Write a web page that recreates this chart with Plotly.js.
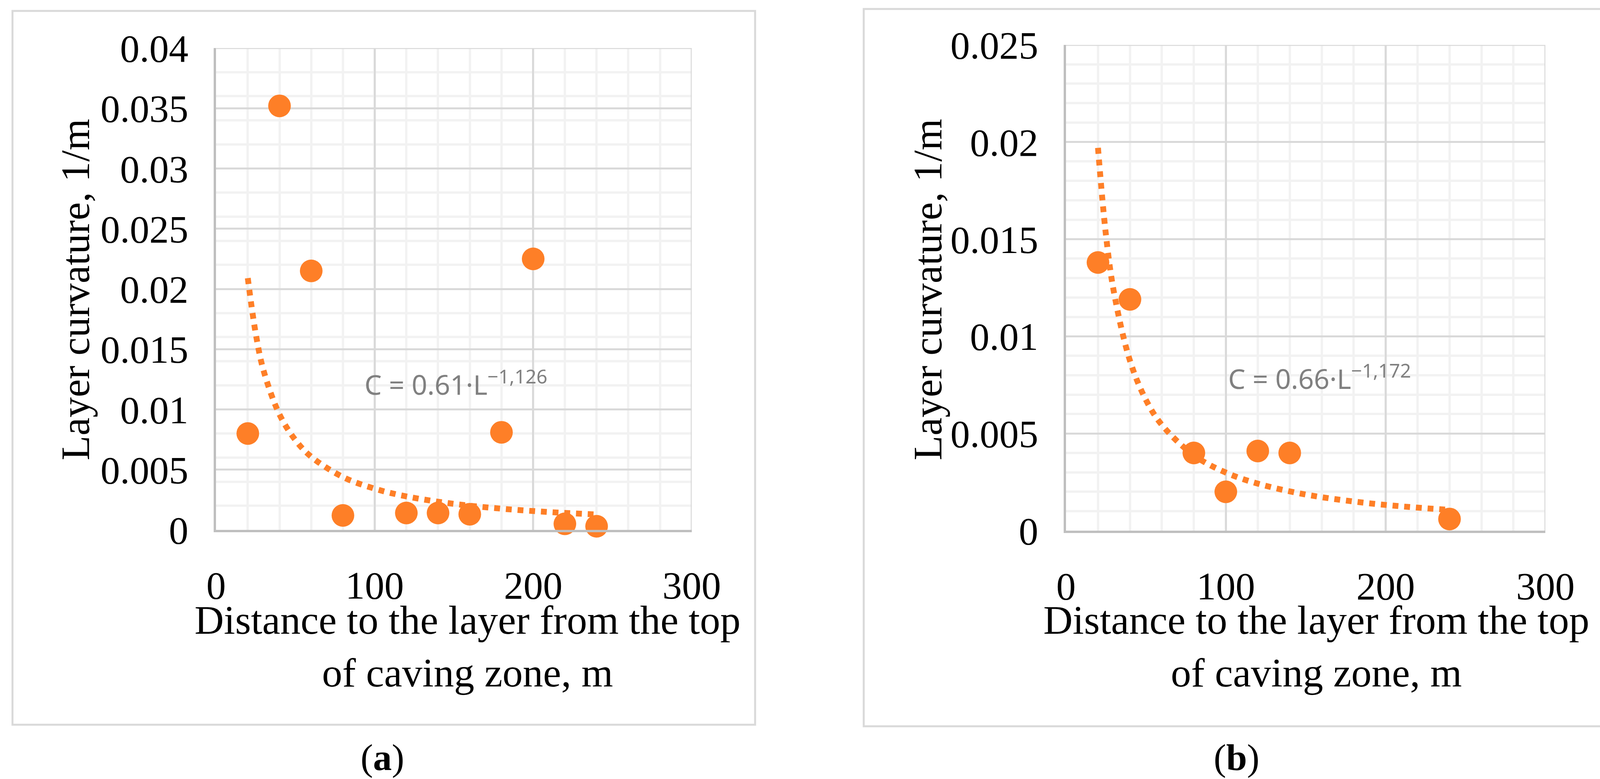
<!DOCTYPE html>
<html>
<head>
<meta charset="utf-8">
<script src="https://cdn.plot.ly/plotly-3.0.1.min.js"></script>
<style>body{margin:0;background:#fff}#chart{width:4150px;height:1995px}</style>
</head>
<body>
<div id="chart"></div>
<script>
// panel (a) measured points
let xA=[20,40,60,80,120,140,160,180,200,220,240]
let yA=[0.008,0.0352,0.0215,0.0012,0.0014,0.0014,0.0013,0.0081,0.0225,0.0005,0.0003]
// panel (a) trend
let trendXA=[20,25,30,40,50,60,80,100,120,150,180,210,240]
let trendYA=[0.0209,0.0163,0.0132,0.00958,0.00746,0.00607,0.00439,0.00342,0.00278,0.00216,0.00176,0.00148,0.00128]

// panel (b) measured points
let xB=[20,40,80,100,120,140,240]
let yB=[0.0138,0.0119,0.0040,0.0020,0.0041,0.0040,0.0006]
let trendXB=[20,25,30,40,50,60,80,100,120,150,180,210,240]
let trendYB=[0.0197,0.0152,0.01226,0.00875,0.00673,0.00544,0.00388,0.00299,0.00242,0.00186,0.0015,0.00125,0.00107]

let xTicks=[0,100,200,300]
let orange="#fe7f27"
let serif="Liberation Serif, Times New Roman, serif"

function axisX(dom,anchor){
return {domain:dom,anchor:anchor,range:[0,300],tickvals:xTicks,showline:true,linecolor:"#bfbfbf",linewidth:6,
gridcolor:"#d9d9d9",gridwidth:5,zeroline:false,ticks:"",ticklabelstandoff:50,
tickfont:{family:serif,size:100,color:"#000"},
minor:{dtick:20,tick0:0,showgrid:true,gridcolor:"#f2f2f2",gridwidth:6}}
}
function axisY(dom,anchor,max,dt){
return {domain:dom,anchor:anchor,range:[0,max],dtick:dt,tick0:0,showline:true,linecolor:"#bfbfbf",linewidth:6,
gridcolor:"#d9d9d9",gridwidth:5,zeroline:false,ticks:"",ticklabelstandoff:45,
tickfont:{family:serif,size:100,color:"#000"},
minor:{dtick:max==0.04?0.002:0.001,tick0:0,showgrid:true,gridcolor:"#f2f2f2",gridwidth:6}}
}

let traces=[
{x:trendXA,y:trendYA,mode:"lines",line:{color:orange,width:15,dash:"dot",shape:"spline"},xaxis:"x",yaxis:"y",hoverinfo:"skip"},
{x:xA,y:yA,mode:"markers",marker:{color:orange,size:58},xaxis:"x",yaxis:"y",cliponaxis:false},
{x:trendXB,y:trendYB,mode:"lines",line:{color:orange,width:15,dash:"dot",shape:"spline"},xaxis:"x2",yaxis:"y2",hoverinfo:"skip"},
{x:xB,y:yB,mode:"markers",marker:{color:orange,size:58},xaxis:"x2",yaxis:"y2",cliponaxis:false}
]

let ann=[]
function addAnn(text,x,y,size,opts){
ann.push(Object.assign({text:text,x:x,y:y,xref:"paper",yref:"paper",xanchor:"center",yanchor:"middle",showarrow:false,
font:{family:serif,size:size,color:"#000"}},opts||{}))
}
addAnn("Distance to the layer from the top<br>of caving zone, m",1197/4150,1-1655/1995,104)
addAnn("Layer curvature, 1/m",192/4150,1-742/1995,104,{textangle:-90})
addAnn("Distance to the layer from the top<br>of caving zone, m",3370/4150,1-1655/1995,104)
addAnn("Layer curvature, 1/m",2374/4150,1-742/1995,104,{textangle:-90})
addAnn("(<b>a</b>)",979/4150,1-1939/1995,96)
addAnn("(<b>b</b>)",3165/4150,1-1939/1995,96)
ann.push({text:"C = 0.61·L<sup>−1,126</sup>",x:93,y:0.0122,xref:"x",yref:"y",xanchor:"left",showarrow:false,
font:{family:"Noto Sans, sans-serif",size:70,color:"#808080"}})
ann.push({text:"C = 0.66·L<sup>−1,172</sup>",x:101,y:0.0079,xref:"x2",yref:"y2",xanchor:"left",showarrow:false,
font:{family:"Noto Sans, sans-serif",size:70,color:"#808080"}})

let layout={
width:4150,height:1995,margin:{l:0,r:0,t:0,b:0},showlegend:false,
paper_bgcolor:"#fff",plot_bgcolor:"#fff",
xaxis:axisX([0.1333,0.4267],"y"),
yaxis:axisY([0.3198,0.9383],"x",0.04,0.005),
xaxis2:axisX([0.6576,0.9533],"y2"),
yaxis2:axisY([0.3188,0.9424],"x2",0.025,0.005),
annotations:ann,
shapes:[
{type:"rect",xref:"paper",yref:"paper",x0:0.0077,x1:0.4658,y0:0.0697,y1:0.986,line:{color:"#d9d9d9",width:5}},
{type:"rect",xref:"paper",yref:"paper",x0:0.5328,x1:0.992,y0:0.0677,y1:0.9885,line:{color:"#d9d9d9",width:5}},
{type:"line",xref:"x",yref:"y",x0:300,x1:300,y0:0,y1:0.04,line:{color:"#d9d9d9",width:5}},
{type:"line",xref:"x",yref:"y",x0:0,x1:300,y0:0.04,y1:0.04,line:{color:"#d9d9d9",width:5}},
{type:"line",xref:"x2",yref:"y2",x0:300,x1:300,y0:0,y1:0.025,line:{color:"#d9d9d9",width:5}},
{type:"line",xref:"x2",yref:"y2",x0:0,x1:300,y0:0.025,y1:0.025,line:{color:"#d9d9d9",width:5}}
]
}

Plotly.newPlot("chart",traces,layout,{staticPlot:true})
</script>
</body>
</html>
